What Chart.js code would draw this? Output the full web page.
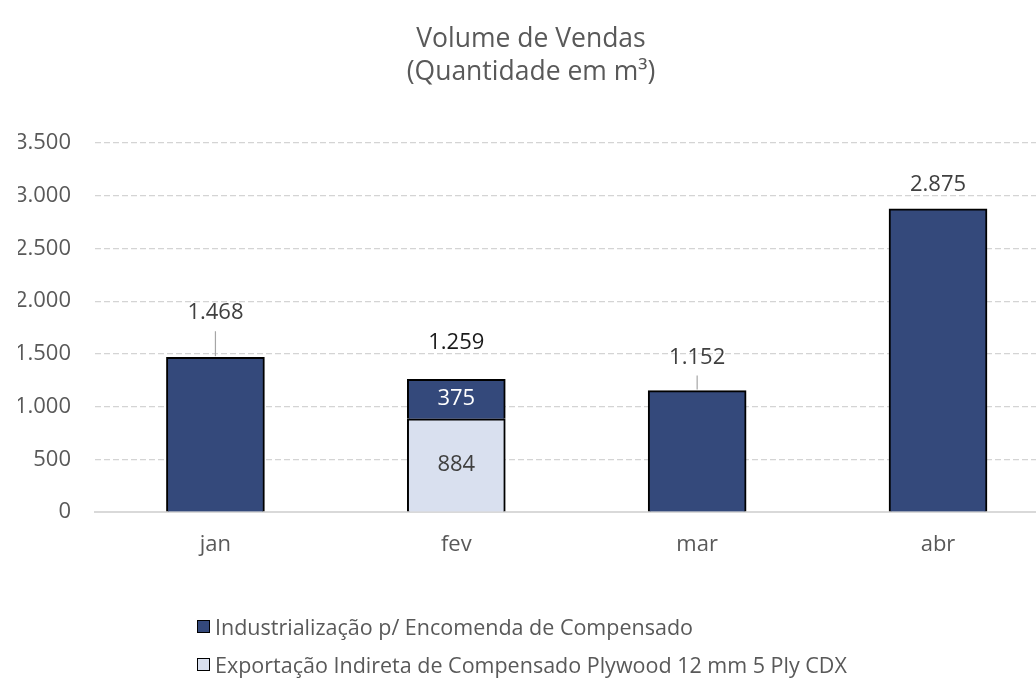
<!DOCTYPE html>
<html>
<head>
<meta charset="utf-8">
<script src="https://cdn.jsdelivr.net/npm/chart.js@4"></script>
<style>
body { margin: 0; background: #fff; overflow: hidden; }
#wrap { position: relative; width: 1044px; height: 685px; }
#legend { position: absolute; left: 197px; top: 607px; font-family: 'Open Sans', sans-serif; font-size: 21.5px; color: #595959; }
.row { height: 38px; display: flex; align-items: center; }
.sw { width: 11px; height: 11px; border: 1.5px solid #000; margin-right: 5px; }
</style>
</head>
<body>
<div id="wrap"><canvas id="chart"></canvas><div id="legend"></div></div>
<script>
const months = ['jan', 'fev', 'mar', 'abr'];
const industrializacao = [1468, 375, 1152, 2875];
const exportacao = [null, 884, null, null];
const seriesNames = [
    'Industrialização p/ Encomenda de Compensado',
    'Exportação Indireta de Compensado Plywood 12 mm 5 Ply CDX'
];
const seriesColors = ['#34497b', '#d9e0ef'];

// how far (px) each total label sits above its bar, and whether a leader line was drawn
const labelLift = [44, 37, 33, 24];
const leader = [true, false, true, false];

function fmt(v)
{
    return String(v).replace(/\B(?=(\d{3})+(?!\d))/g, '.');
}

function $(selector)
{
    return document.querySelector(selector);
}

// legend: two rows, left aligned like the original
seriesNames.forEach((name, i) => {
    const row = document.createElement('div');
    row.className = 'row';
    row.innerHTML = `<span class="sw" style="background:${seriesColors[i]}"></span><span>${name}</span>`;
    $('#legend').appendChild(row);
});

const labelsPlugin = {
    id: 'barLabels',
    afterDatasetsDraw(chart) {
        const ctx = chart.ctx;
        const xs = chart.scales.x, ys = chart.scales.y;
        ctx.save();
        ctx.font = '22px "Open Sans"';
        ctx.textAlign = 'center';
        ctx.textBaseline = 'middle';

        months.forEach((m, i) => {
            const total = (industrializacao[i] || 0) + (exportacao[i] || 0);
            const x = xs.getPixelForValue(i);
            const top = ys.getPixelForValue(total);
            const ly = top - labelLift[i];
            ctx.fillStyle = i === 1 ? '#1a1a1a' : '#404040';
            ctx.fillText(fmt(total), x, ly);
            if (leader[i]) {
                ctx.strokeStyle = '#a6a6a6';
                ctx.lineWidth = 1.2;
                ctx.beginPath();
                ctx.moveTo(x, ly + 18);
                ctx.lineTo(x, top - 1);
                ctx.stroke();
            }

            // segment labels only where the bar is really stacked
            if (industrializacao[i] && exportacao[i]) {
                chart.data.datasets.forEach((ds, d) => {
                    const el = chart.getDatasetMeta(d).data[i];
                    ctx.fillStyle = d === 1 ? '#ffffff' : '#404040';
                    ctx.fillText(fmt(ds.data[i].y), el.x, (el.y + el.base) / 2);
                });
            }
        });
        ctx.restore();
    }
};

new Chart($('#chart'), {
    type: 'bar',
    data: {
        datasets: [
            {
                label: seriesNames[1],
                data: exportacao.map((v, i) => ({ x: i, y: v })),
                backgroundColor: seriesColors[1],
                borderColor: '#000',
                borderWidth: 2,
                barThickness: 98
            },
            {
                label: seriesNames[0],
                data: industrializacao.map((v, i) => ({ x: i, y: v })),
                backgroundColor: seriesColors[0],
                borderColor: '#000',
                borderWidth: 2,
                barThickness: 98
            }
        ]
    },
    options: {
        responsive: true,
        maintainAspectRatio: false,
        animation: false,
        layout: { padding: { left: 18, right: 0, bottom: 127 } },
        plugins: {
            legend: { display: false },
            tooltip: { enabled: false },
            title: {
                display: true,
                text: ['Volume de Vendas', '(Quantidade em m³)'],
                color: '#595959',
                font: { family: 'Open Sans', size: 26.5, weight: 'normal', lineHeight: 33 / 26.5 },
                padding: { top: 23, bottom: 54 }
            }
        },
        scales: {
            x: {
                type: 'linear',
                stacked: true,
                offset: false,
                min: -0.5,
                max: 3.44,
                afterBuildTicks: (scale) => { scale.ticks = months.map((m, i) => ({ value: i })); },
                afterFit: (scale) => { scale.height = 46; },
                ticks: {
                    callback: (v) => months[v],
                    color: '#595959',
                    font: { family: 'Open Sans', size: 22 },
                    padding: 20,
                    maxRotation: 0
                },
                grid: { display: false, drawTicks: false },
                border: { display: true, color: '#d9d9d9', width: 2 }
            },
            y: {
                stacked: true,
                min: 0,
                max: 3500,
                afterFit: (scale) => { scale.width = 77; },
                ticks: {
                    stepSize: 500,
                    callback: (v) => fmt(v),
                    color: '#595959',
                    font: { family: 'Open Sans', size: 22 },
                    padding: 24
                },
                grid: { color: '#d4d4d4', lineWidth: 1.25, drawTicks: false },
                border: { display: false, dash: [6, 3] }
            }
        }
    },
    plugins: [labelsPlugin]
});
</script>
</body>
</html>
